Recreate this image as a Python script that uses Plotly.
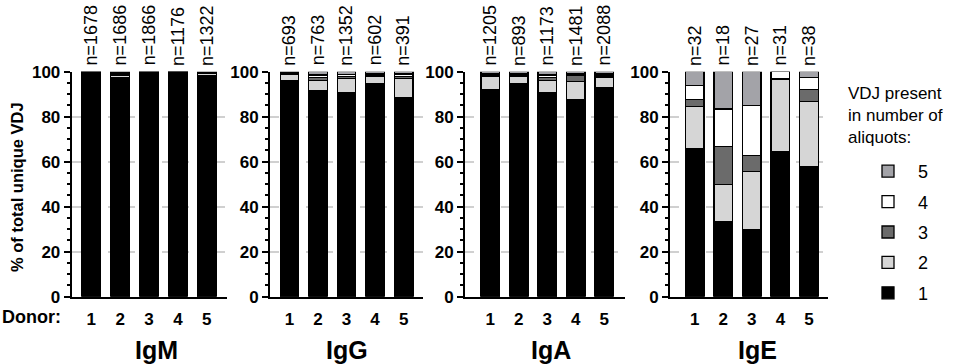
import plotly.graph_objects as go

# ---------------- data ----------------
donors = [1, 2, 3, 4, 5]
isotypes = ["IgM", "IgG", "IgA", "IgE"]
levels = ["1", "2", "3", "4", "5"]

n_IgM = [1678, 1686, 1866, 1176, 1322]
n_IgG = [693, 763, 1352, 602, 391]
n_IgA = [1205, 893, 1173, 1481, 2088]
n_IgE = [32, 18, 27, 31, 38]

# % of total unique VDJ present in 1..5 aliquots, per donor
IgM_1 = [99.5, 97.5, 99.6, 99.7, 98.3]
IgM_2 = [0.3, 0.9, 0.2, 0.2, 0.9]
IgM_3 = [0.1, 0.6, 0.1, 0.05, 0.3]
IgM_4 = [0.05, 0.5, 0.05, 0.03, 0.3]
IgM_5 = [0.05, 0.5, 0.05, 0.02, 0.2]

IgG_1 = [96.2, 91.6, 90.8, 94.6, 88.5]
IgG_2 = [2.6, 4.6, 6.2, 3.4, 8.5]
IgG_3 = [0.3, 1.3, 1.0, 0.6, 1.0]
IgG_4 = [0.5, 1.0, 0.8, 0.6, 1.0]
IgG_5 = [0.4, 1.5, 1.2, 0.8, 1.0]

IgA_1 = [92.0, 94.5, 90.8, 87.6, 92.8]
IgA_2 = [5.8, 3.3, 5.2, 8.2, 4.9]
IgA_3 = [0.8, 0.8, 1.5, 2.5, 0.9]
IgA_4 = [0.6, 0.6, 1.0, 0.7, 0.6]
IgA_5 = [0.8, 0.8, 1.5, 1.0, 0.8]

IgE_1 = [65.6, 33.3, 29.6, 64.5, 57.9]
IgE_2 = [18.8, 16.7, 25.9, 32.3, 28.9]
IgE_3 = [3.1, 16.7, 7.4, 0.0, 5.3]
IgE_4 = [6.3, 16.7, 22.2, 3.2, 5.3]
IgE_5 = [6.2, 16.6, 14.9, 0.0, 2.6]

panel_data = {
    "IgM": ([IgM_1, IgM_2, IgM_3, IgM_4, IgM_5], n_IgM),
    "IgG": ([IgG_1, IgG_2, IgG_3, IgG_4, IgG_5], n_IgG),
    "IgA": ([IgA_1, IgA_2, IgA_3, IgA_4, IgA_5], n_IgA),
    "IgE": ([IgE_1, IgE_2, IgE_3, IgE_4, IgE_5], n_IgE),
}

# ---------------- style ----------------
W, H = 957, 364
FONT = "Arial, Liberation Sans, sans-serif"
level_colors = ["#000000", "#d6d6d6", "#6b6b6b", "#ffffff", "#a3a3a8"]

# pixel layout of the four panels: (axis left, axis right, x range)
panel_px = {
    "IgM": (71.7, 226.7, [0.32, 5.69]),
    "IgG": (270.0, 423.3, [0.317, 5.69]),
    "IgA": (465.0, 625.0, [0.111, 5.73]),
    "IgE": (670.0, 828.3, [0.133, 5.68]),
}
title_px = {"IgM": 156, "IgG": 347, "IgA": 551, "IgE": 757}
y_top_px, y_bot_px = 71.7, 296.7
ydom = [1 - y_bot_px / H, 1 - y_top_px / H]

fig = go.Figure()
annotations = []
layout_axes = {}

for i, iso in enumerate(isotypes):
    ax = "" if i == 0 else str(i + 1)
    vals, ns = panel_data[iso]
    for k, lev in enumerate(levels):
        fig.add_trace(go.Bar(
            x=donors, y=vals[k],
            xaxis="x" + ax, yaxis="y" + ax,
            name=lev, legendgroup=lev, legendrank=10 - k,
            showlegend=(iso == "IgE"),
            width=0.65,
            marker=dict(color=level_colors[k],
                        line=dict(color="#000000", width=1.3)),
            hoverinfo="x+y+name",
        ))
    L, R, xr = panel_px[iso]
    layout_axes["xaxis" + ax] = dict(
        domain=[L / W, R / W], range=xr, anchor="y" + ax,
        showline=True, linecolor="black", linewidth=2,
        ticks="", tickmode="array", tickvals=donors,
        ticktext=["<b>%d</b>" % d for d in donors],
        tickfont=dict(family=FONT, size=17, color="black"),
        ticklabelstandoff=6, automargin=False,
        showgrid=False, zeroline=False, fixedrange=True,
    )
    layout_axes["yaxis" + ax] = dict(
        domain=ydom, range=[0, 100], anchor="x" + ax,
        showline=True, linecolor="black", linewidth=2,
        ticks="outside", ticklen=6, tickwidth=2, tickcolor="black",
        tickmode="array", tickvals=[0, 20, 40, 60, 80, 100],
        ticktext=["<b>%d</b>" % v for v in [0, 20, 40, 60, 80, 100]],
        tickfont=dict(family=FONT, size=17, color="black"),
        minor=dict(dtick=5, ticks="outside", ticklen=3, tickwidth=2,
                   tickcolor="black", showgrid=False),
        showgrid=True, gridcolor="#d0d0d0", gridwidth=1.5, griddash="dash",
        zeroline=False, fixedrange=True, automargin=False,
    )
    # n= labels above each bar
    for d, n in zip(donors, ns):
        annotations.append(dict(
            x=d, y=100, xref="x" + ax, yref="y" + ax,
            text="n=%d" % n, textangle=-90, showarrow=False,
            xanchor="center", yanchor="bottom", yshift=4,
            font=dict(family=FONT, size=18, color="black"),
        ))
    # panel title
    annotations.append(dict(
        x=title_px[iso] / W, y=1 - 350 / H, xref="paper", yref="paper",
        text="<b>%s</b>" % iso, showarrow=False,
        xanchor="center", yanchor="middle",
        font=dict(family=FONT, size=25, color="black"),
    ))

annotations.append(dict(
    x=0.0, y=1 - 317 / H, xref="paper", yref="paper",
    text="<b>Donor:</b>", showarrow=False, xanchor="left", yanchor="middle",
    font=dict(family=FONT, size=18, color="black"),
))
annotations.append(dict(
    x=17 / W, y=1 - 187 / H, xref="paper", yref="paper",
    text="<b>% of total unique VDJ</b>", textangle=-90, showarrow=False,
    xanchor="center", yanchor="middle",
    font=dict(family=FONT, size=16.5, color="black"),
))
annotations.append(dict(
    x=846 / W, y=1 - 82 / H, xref="paper", yref="paper",
    text="VDJ present<br>in number of<br>aliquots:", showarrow=False,
    xanchor="left", yanchor="top", align="left",
    font=dict(family=FONT, size=17, color="black"),
))

fig.update_layout(
    width=W, height=H,
    margin=dict(l=0, r=0, t=0, b=0, autoexpand=False),
    paper_bgcolor="white", plot_bgcolor="white",
    barmode="stack",
    annotations=annotations,
    showlegend=True,
    legend=dict(
        x=858 / W, y=1 - 153 / H, xanchor="left", yanchor="top",
        traceorder="grouped", tracegroupgap=4, itemwidth=50,
        font=dict(family=FONT, size=18, color="black"),
        bgcolor="rgba(0,0,0,0)",
    ),
    font=dict(family=FONT, color="black"),
    **layout_axes,
)

fig.write_html(
    "out.html",
    config={"displayModeBar": False},
    post_script="document.body.style.margin='0';document.body.style.overflow='hidden';",
)
